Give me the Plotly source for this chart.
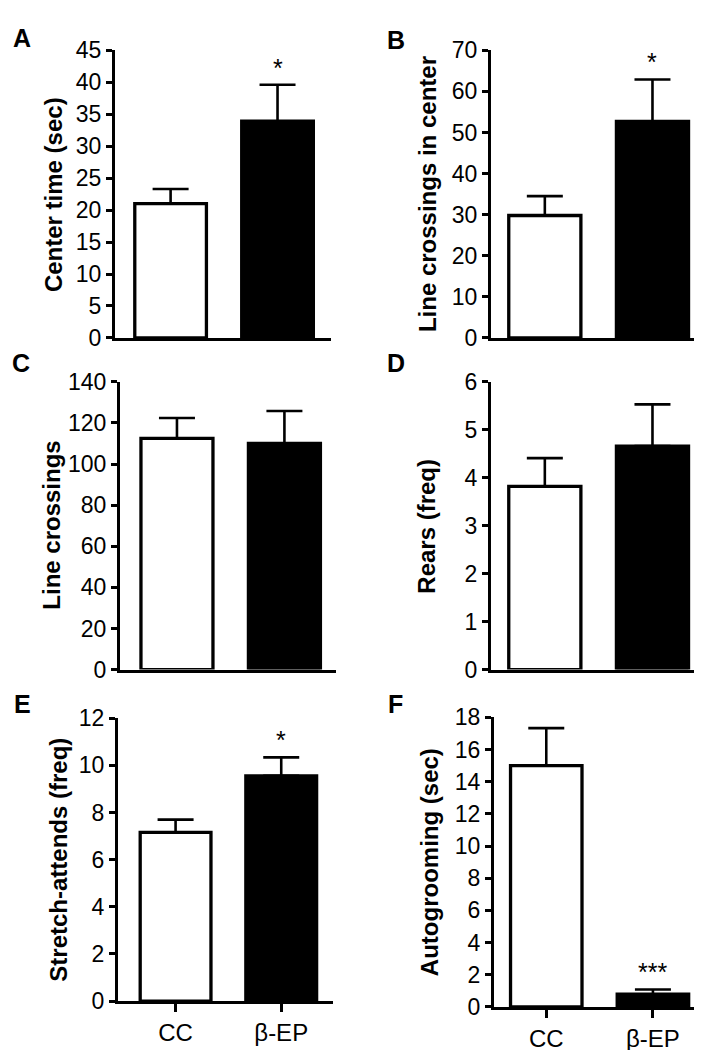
import plotly.graph_objects as go

groups = ["CC", "β-EP"]

center_time = [21.0, 33.9]
center_time_err = [2.3, 5.7]

center_crossings = [29.8, 52.7]
center_crossings_err = [4.7, 10.2]

line_crossings = [112.5, 110.1]
line_crossings_err = [9.9, 15.7]

rears = [3.82, 4.66]
rears_err = [0.59, 0.87]

stretch_attends = [7.16, 9.56]
stretch_attends_err = [0.54, 0.78]

autogrooming = [15.0, 0.79]
autogrooming_err = [2.33, 0.30]

letters = ["A", "B", "C", "D", "E", "F"]
titles = ["Center time (sec)", "Line crossings in center", "Line crossings",
          "Rears (freq)", "Stretch-attends (freq)", "Autogrooming (sec)"]
means = [center_time, center_crossings, line_crossings, rears, stretch_attends, autogrooming]
errs = [center_time_err, center_crossings_err, line_crossings_err, rears_err,
        stretch_attends_err, autogrooming_err]
ymaxes = [45, 70, 140, 6, 12, 18]
dticks = [5, 10, 20, 1, 2, 2]
stars = ["*", "*", "", "", "*", "***"]

W, H = 702, 1050
# pixel boxes: (x0, x1, ytop, ybottom)
boxes = [(107, 323, 30, 325), (483, 694, 30, 325), (112, 328, 370, 665),
         (483, 694, 370, 665), (110, 325, 715, 1005), (486, 694, 714, 1011)]
xranges = [[-0.52, 1.50], [-0.50, 1.46], [-0.53, 1.48],
           [-0.50, 1.46], [-0.545, 1.49], [-0.49, 1.46]]
letter_pos = [(14, 17), (388, 19), (13, 351), (388, 351), (14, 700), (387, 700)]
title_x = [45, 419, 44, 419, 51, 421]

FONT = "Liberation Sans, Arial, Helvetica, sans-serif"

fig = go.Figure()
layout = dict(
    width=W, height=H,
    margin=dict(l=0, r=0, t=0, b=0),
    paper_bgcolor="white", plot_bgcolor="white",
    showlegend=False,
    font=dict(family=FONT, color="black", size=22),
    annotations=[],
)

for i in range(6):
    n = "" if i == 0 else str(i + 1)
    xa, ya = "x" + n, "y" + n
    x0, x1, yt, yb = boxes[i]
    fig.add_trace(go.Bar(
        x=groups, y=means[i], xaxis=xa, yaxis=ya, width=0.67,
        marker=dict(color=["white", "black"], line=dict(color="black", width=3.3)),
        error_y=dict(type="data", array=errs[i], arrayminus=[0, 0], symmetric=False,
                     color="black", thickness=2.6, width=18),
    ))
    bottom_row = i >= 4
    layout["xaxis" + n] = dict(
        domain=[x0 / W, x1 / W], anchor=ya, type="category", range=xranges[i],
        showline=True, linewidth=3, linecolor="black", showgrid=False, zeroline=False,
        showticklabels=bottom_row, ticks="outside" if bottom_row else "",
        ticklen=8, tickwidth=2.5, tickcolor="black",
        tickfont=dict(size=24, family=FONT, color="black"), fixedrange=True,
    )
    layout["yaxis" + n] = dict(
        domain=[1 - yb / H, 1 - yt / H], anchor=xa, range=[0, ymaxes[i]],
        tick0=0, dtick=dticks[i],
        showline=True, linewidth=3, linecolor="black", showgrid=False, zeroline=False,
        ticks="outside", ticklen=6, tickwidth=2.5, tickcolor="black",
        tickfont=dict(size=23, family=FONT, color="black"), fixedrange=True,
    )
    # panel letter
    lx, ly = letter_pos[i]
    layout["annotations"].append(dict(
        text="<b>" + letters[i] + "</b>", xref="paper", yref="paper",
        x=lx / W, y=1 - ly / H, xanchor="center", yanchor="middle",
        showarrow=False, font=dict(size=25, family=FONT, color="black")))
    # y title
    layout["annotations"].append(dict(
        text="<b>" + titles[i] + "</b>", xref="paper", yref="paper",
        x=title_x[i] / W, y=1 - (yt + yb) / 2 / H, xanchor="center", yanchor="middle",
        textangle=-90, showarrow=False, font=dict(size=24, family=FONT, color="black")))
    # significance stars
    if stars[i]:
        layout["annotations"].append(dict(
            text=stars[i], xref=xa, yref=ya, x=groups[1],
            y=means[i][1] + errs[i][1], xanchor="center", yanchor="bottom",
            yshift=1, showarrow=False, font=dict(size=25, family=FONT, color="black")))

fig.update_layout(**layout)
fig.write_html("out.html")
